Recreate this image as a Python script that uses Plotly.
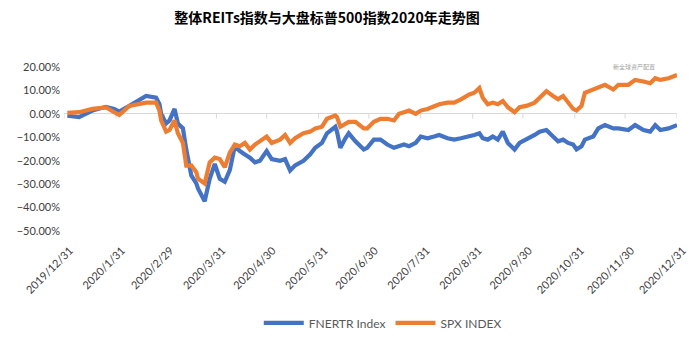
import plotly.graph_objects as go

dates = [
    "2020-01-02", "2020-01-09", "2020-01-17", "2020-01-25", "2020-01-30", "2020-02-02",
    "2020-02-08", "2020-02-14", "2020-02-18", "2020-02-24", "2020-02-26", "2020-02-27",
    "2020-03-01", "2020-03-03", "2020-03-06", "2020-03-08", "2020-03-11", "2020-03-13",
    "2020-03-16", "2020-03-19", "2020-03-20", "2020-03-24", "2020-03-27", "2020-03-30",
    "2020-04-02", "2020-04-05", "2020-04-08", "2020-04-11", "2020-04-14", "2020-04-17",
    "2020-04-20", "2020-04-23", "2020-04-26", "2020-04-30", "2020-05-03", "2020-05-08",
    "2020-05-11", "2020-05-14", "2020-05-17", "2020-05-22", "2020-05-26", "2020-05-29",
    "2020-06-02", "2020-06-05", "2020-06-10", "2020-06-11", "2020-06-13", "2020-06-16",
    "2020-06-18", "2020-06-22", "2020-06-27", "2020-06-29", "2020-07-03", "2020-07-07",
    "2020-07-11", "2020-07-15", "2020-07-18", "2020-07-21", "2020-07-24", "2020-07-28",
    "2020-07-31", "2020-08-04", "2020-08-08", "2020-08-11", "2020-08-16", "2020-08-20",
    "2020-08-24", "2020-08-29", "2020-09-01", "2020-09-04", "2020-09-06", "2020-09-09",
    "2020-09-12", "2020-09-15", "2020-09-18", "2020-09-21", "2020-09-25", "2020-09-28",
    "2020-10-02", "2020-10-07", "2020-10-10", "2020-10-14", "2020-10-18", "2020-10-21",
    "2020-10-24", "2020-10-27", "2020-10-30", "2020-11-01", "2020-11-04", "2020-11-06",
    "2020-11-11", "2020-11-14", "2020-11-18", "2020-11-23", "2020-11-26", "2020-12-02",
    "2020-12-06", "2020-12-11", "2020-12-15", "2020-12-18", "2020-12-21", "2020-12-26",
    "2020-12-31",
]

fnertr = [
    -0.8, -1.4, 1.4, 3.0, 2.1, 1.0,
    3.4, 6.2, 7.6, 6.9, 4.1, 0.0,
    -4.1, -2.8, 2.1, -4.1, -6.2, -15.2,
    -26.3, -29.7, -31.8, -37.3, -27.7, -21.4,
    -27.7, -29.0, -24.0, -13.8, -15.9, -17.3,
    -18.7, -20.7, -20.0, -15.9, -19.3, -20.0,
    -19.3, -24.2, -22.0, -20.0, -17.3, -14.5,
    -12.4, -8.3, -5.5, -7.6, -14.5, -10.4,
    -8.3, -11.7, -15.2, -14.5, -11.0, -11.0,
    -13.1, -14.5, -13.8, -13.1, -13.8, -12.4,
    -9.7, -10.4, -9.7, -9.0, -10.4, -11.0,
    -10.4, -9.7, -9.0, -8.3, -10.4, -11.0,
    -9.7, -11.0, -7.6, -12.4, -15.2, -12.4,
    -11.0, -9.0, -7.6, -6.9, -9.7, -11.7,
    -11.0, -12.4, -13.1, -15.2, -13.8, -11.0,
    -9.7, -6.2, -4.8, -6.2, -6.2, -6.9,
    -4.8, -6.9, -7.6, -4.8, -6.9, -6.2,
    -4.8,
]

spx = [
    0.4, 0.7, 2.1, 2.8, 0.7, -0.5,
    3.4, 4.1, 4.8, 4.8, 1.4, -2.8,
    -7.6, -6.9, -2.8, -8.3, -12.4, -22.1,
    -22.0, -24.9, -27.7, -29.7, -20.7, -18.7,
    -19.3, -22.8, -16.6, -13.1, -13.8, -12.4,
    -15.2, -13.1, -11.7, -9.7, -12.4, -11.0,
    -9.0, -12.4, -10.4, -8.3, -7.6, -6.2,
    -5.5, -2.1, -0.7, -1.4, -5.5, -4.1,
    -3.4, -3.4, -6.2, -6.2, -3.4, -2.1,
    -2.1, -2.8, 0.0, 0.7, 1.4, 0.0,
    1.4, 2.1, 3.4, 4.1, 4.8, 4.8,
    6.2, 8.3, 9.0, 11.0, 6.9, 4.1,
    4.8, 4.1, 5.5, 2.8, 0.7, 2.8,
    3.4, 4.8, 6.9, 9.7, 7.6, 6.2,
    7.6, 4.8, 2.1, 1.4, 3.4, 9.0,
    10.4, 11.0, 12.4, 10.4, 12.4, 12.4,
    14.5, 13.8, 13.1, 15.2, 14.5, 15.2,
    16.6,
]

tick_dates = [
    "2019-12-31", "2020-01-31", "2020-02-29", "2020-03-31", "2020-04-30", "2020-05-31",
    "2020-06-30", "2020-07-31", "2020-08-31", "2020-09-30", "2020-10-31", "2020-11-30",
    "2020-12-31",
]
tick_labels = [
    "2019/12/31", "2020/1/31", "2020/2/29", "2020/3/31", "2020/4/30", "2020/5/31",
    "2020/6/30", "2020/7/31", "2020/8/31", "2020/9/30", "2020/10/31", "2020/11/30",
    "2020/12/31",
]

y_ticks = [0.2, 0.1, 0.0, -0.1, -0.2, -0.3, -0.4, -0.5]

title = "整体REITs指数与大盘标普500指数2020年走势图"
blue = "#4472C4"
orange = "#ED7D31"
label_color = "#595959"

fig = go.Figure()
fig.add_trace(go.Scatter(
    x=dates, y=[v / 100 for v in fnertr], mode="lines", name="FNERTR Index",
    line=dict(color=blue, width=4.2, shape="linear"),
))
fig.add_trace(go.Scatter(
    x=dates, y=[v / 100 for v in spx], mode="lines", name="SPX INDEX",
    line=dict(color=orange, width=4.2, shape="linear"),
))

# small tick marks hanging below the zero axis line
shapes = []
for d in tick_dates:
    shapes.append(dict(type="line", xref="x", yref="y", x0=d, x1=d, y0=0, y1=-0.02,
                       line=dict(color="#D9D9D9", width=1), layer="below"))

fig.update_layout(
    width=700, height=349,
    margin=dict(l=64, r=18, t=67, b=113),
    paper_bgcolor="white", plot_bgcolor="white",
    font=dict(family="Lato, 'Noto Sans CJK SC', sans-serif", color=label_color, size=11),
    title=dict(text="<b>" + title + "</b>", x=327 / 700, xanchor="center", y=1 - 18 / 349,
               yanchor="middle",
               font=dict(family="'Noto Sans CJK SC', sans-serif", size=14, color="#000000")),
    showlegend=True,
    legend=dict(orientation="h", x=0.52, xanchor="center", y=-0.56, yanchor="middle",
                font=dict(family="Lato, sans-serif", size=12, color=label_color),
                bgcolor="rgba(0,0,0,0)", itemwidth=40),
    shapes=shapes,
    annotations=[dict(text="新全球资产配置", xref="paper", yref="paper",
                      x=(662 - 64) / 618, y=(236 - 60) / 169, showarrow=False,
                      font=dict(family="'Noto Sans CJK SC', sans-serif", size=6, color="#A0A0A0"))],
)
fig.update_xaxes(
    type="date", range=["2019-12-31", "2020-12-31"],
    tickmode="array", tickvals=tick_dates, ticktext=tick_labels,
    tickangle=-45, showgrid=False, zeroline=False, showline=False, ticks="",
    ticklabelstandoff=10, ticklabelshift=6,
    tickfont=dict(family="Lato, sans-serif", size=11, color="#404040"),
)
fig.update_yaxes(
    range=[-0.5, 0.2], tickmode="array", tickvals=y_ticks, tickformat=".2%",
    showgrid=False, zeroline=True, zerolinecolor="#D9D9D9", zerolinewidth=1,
    showline=False, ticks="", ticklabelstandoff=3,
    tickfont=dict(family="Lato, sans-serif", size=11, color="#404040"),
)

fig.write_html("out.html")
